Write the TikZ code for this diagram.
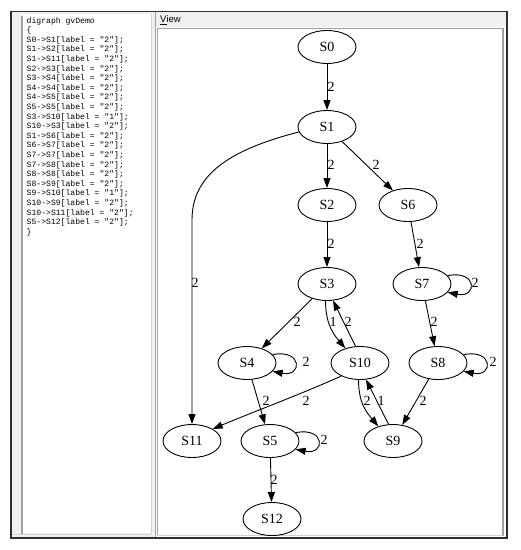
\documentclass[tikz,border=0pt]{standalone}
\usepackage{fontspec}
\setmainfont{Liberation Serif}
\setsansfont{Liberation Sans}
\setmonofont{Liberation Mono}
\usetikzlibrary{shapes.geometric,arrows.meta}
\definecolor{panelgray}{HTML}{F0F0F0}
\definecolor{linegray}{HTML}{A0A0A0}
\definecolor{framedark}{HTML}{303030}
\begin{document}
\begin{tikzpicture}[x=1pt,y=-1pt,
  st/.style={ellipse,draw,line width=0.9pt,minimum width=58pt,minimum height=33pt,inner sep=0pt,font=\fontsize{14}{16}\selectfont},
  arr/.style={draw,line width=0.9pt,-{Triangle[length=10pt,width=7pt]}},
  lab/.style={font=\fontsize{14}{16}\selectfont,inner sep=0pt},
  code/.style={anchor=north west,align=left,inner sep=0pt,font=\fontsize{8.1}{9.6}\selectfont\ttfamily},
  tabtext/.style={anchor=west,inner sep=0pt,font=\fontsize{9.5}{11}\selectfont\sffamily}]
\useasboundingbox (0,0) rectangle (521,550);
\fill[white] (0,0) rectangle (521,550);
% left panel
\fill[panelgray] (11,12) rectangle (156,538);
\fill[white] (23,14) rectangle (151,533);
\draw[linegray,line width=2pt] (22,16) -- (22,534);
\draw[linegray!50,line width=1pt] (151,14) -- (151,534);
\draw[linegray!50,line width=1pt] (12,534.5) -- (151,534.5);
\draw[linegray,line width=1.5pt] (155.5,12) -- (155.5,538);
% right panel
\fill[panelgray] (156,12) rectangle (506,27);
\fill[white] (157,28) rectangle (503,535);
\draw[linegray,line width=0.8pt] (157,535) -- (157,28) -- (503,28);
\draw[linegray,line width=2.5pt] (503,28) -- (503,536);
\draw[linegray!50,line width=0.8pt] (157,535.5) -- (503,535.5);
\node[tabtext] (view) at (160,20) {\underline{V}iew};
% outer frame
\draw[framedark,line width=1.2pt] (11,11.5) rectangle (507,538);
% code text
\node[code] (src) at (26.5,17) {digraph gvDemo\\
\{\\
S0->S1[label = "2"];\\
S1->S2[label = "2"];\\
S1->S11[label = "2"];\\
S2->S3[label = "2"];\\
S3->S4[label = "2"];\\
S4->S4[label = "2"];\\
S4->S5[label = "2"];\\
S5->S5[label = "2"];\\
S3->S10[label = "1"];\\
S10->S3[label = "2"];\\
S1->S6[label = "2"];\\
S6->S7[label = "2"];\\
S7->S7[label = "2"];\\
S7->S8[label = "2"];\\
S8->S8[label = "2"];\\
S8->S9[label = "2"];\\
S9->S10[label = "1"];\\
S10->S9[label = "2"];\\
S10->S11[label = "2"];\\
S5->S12[label = "2"];\\
\}};
% nodes
\node[st] (S0) at (327,47) {S0};
\node[st] (S1) at (327,127) {S1};
\node[st] (S2) at (327,205) {S2};
\node[st] (S6) at (408,205) {S6};
\node[st] (S3) at (327,284) {S3};
\node[st] (S7) at (422,284) {S7};
\node[st] (S4) at (247,363) {S4};
\node[st] (S10) at (360,363) {S10};
\node[st] (S8) at (438,363) {S8};
\node[st] (S11) at (192,441) {S11};
\node[st] (S5) at (270,441) {S5};
\node[st] (S9) at (393,441) {S9};
\node[st] (S12) at (272,519) {S12};
% edges
\draw[arr] (S0) -- (S1);
\draw[arr] (S1) -- (S2);
\draw[arr] (S1.190) .. controls +(-70,18) and +(0,-45) .. (192,220) -- (S11.north);
\draw[arr] (S2) -- (S3);
\draw[arr] (S1) -- (S6);
\draw[arr] (S6) -- (S7);
\draw[arr] (S3) -- (S4);
\draw[arr] (S7) -- (S8);
\draw[arr] (S4) -- (S5);
\draw[arr] (S8) -- (S9);
\draw[arr] (S5) -- (S12);
\draw[arr] (S3.-95) .. controls +(0,25) and +(-10,-12) .. (S10.135);
\draw[arr] (S10.105) -- (S3.-70);
\draw[arr] (S10.-95) .. controls +(0,25) and +(-10,-12) .. (S9.135);
\draw[arr] (S9.105) -- (S10.-70);
\draw[arr] (S10.-145) .. controls +(-45,20) and +(35,-15) .. (S11.30);
\draw[arr] (S7.18) .. controls +(30,-6) and +(30,6) .. (S7.-18);
\draw[arr] (S4.18) .. controls +(30,-6) and +(30,6) .. (S4.-18);
\draw[arr] (S8.18) .. controls +(30,-6) and +(30,6) .. (S8.-18);
\draw[arr] (S5.18) .. controls +(30,-6) and +(30,6) .. (S5.-18);
% edge labels
\node[lab] (l01) at (331,87) {2};
\node[lab] (l12) at (331,165) {2};
\node[lab] (l16) at (376,165) {2};
\node[lab] (l23) at (331,244) {2};
\node[lab] (l67) at (420,244) {2};
\node[lab] (l77) at (475,283) {2};
\node[lab] (l111) at (195,283) {2};
\node[lab] (l34) at (297,322) {2};
\node[lab] (l310) at (333,322) {1};
\node[lab] (l103) at (348,322) {2};
\node[lab] (l78) at (434,322) {2};
\node[lab] (l44) at (306,362) {2};
\node[lab] (l88) at (493,362) {2};
\node[lab] (l1011) at (306,401) {2};
\node[lab] (l45) at (266,401) {2};
\node[lab] (l109) at (367,401) {2};
\node[lab] (l910) at (381,401) {1};
\node[lab] (l89) at (423,401) {2};
\node[lab] (l55) at (324,440) {2};
\node[lab] (l512) at (274,480) {2};
\end{tikzpicture}
\end{document}
